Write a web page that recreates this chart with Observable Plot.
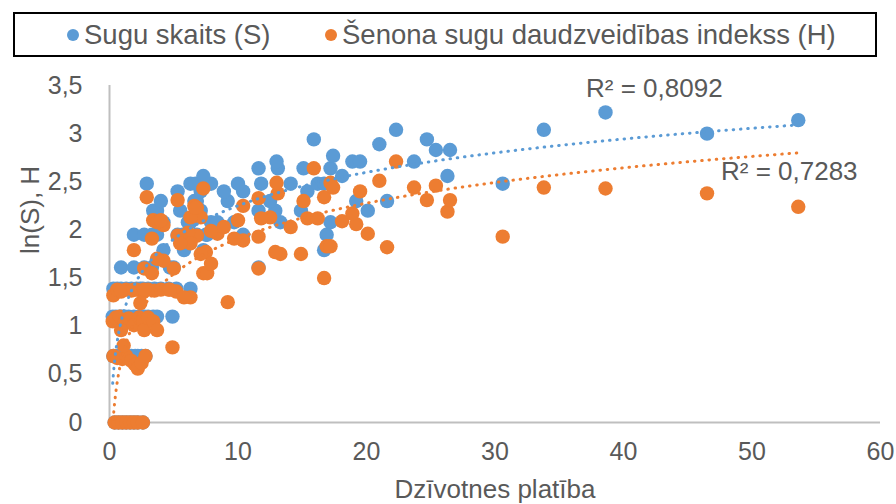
<!DOCTYPE html>
<html><head><meta charset="utf-8">
<script src="https://cdn.jsdelivr.net/npm/d3@7"></script>
<script src="https://cdn.jsdelivr.net/npm/@observablehq/plot@0.6"></script>
<style>
html,body{margin:0;padding:0;background:#fff;}
#wrap{position:relative;width:896px;height:504px;font-family:"Liberation Sans",Arial,sans-serif;color:#595959;overflow:hidden;}
#legend{position:absolute;left:13px;top:12px;width:864px;height:45px;box-sizing:border-box;border:2px solid #000;background:#fff;z-index:2;}
.li{position:absolute;top:0;height:41px;display:flex;align-items:center;font-size:27.5px;white-space:nowrap;}
.sw{display:inline-block;width:12px;height:12px;border-radius:50%;margin-right:5px;}
#chart{position:absolute;left:0;top:0;}
</style></head>
<body>
<div id="wrap">
  <div id="chart"></div>
  <div id="legend"></div>
</div>
<script>
// --- data ---
const area = [0.4,0.7,1.0,1.3,1.6,1.9,2.2,2.6,
  0.3,0.6,1.0,1.3,1.7,2.0,2.2,2.5,2.8,
  0.25,0.5,0.8,0.9,1.1,1.2,1.5,1.9,2.3,2.6,2.7,3.0,3.4,3.7,4.9,
  0.3,0.6,0.9,1.3,1.7,2.1,2.4,2.6,3.0,3.5,4.0,4.6,5.2,6.3,
  0.9,1.9,2.7,3.3,4.7,5.0,11.6,
  4.2,5.8,7.3,16.7,
  1.9,2.7,3.3,3.7,5.3,5.7,6.8,7.5,7.6,10.4,16.9,
  4.2,6.1,6.3,7.9,8.4,9.7,13.3,17.2,
  3.4,3.7,5.5,7.1,11.6,12.9,14.9,20.1,
  4.0,6.6,6.8,9.2,12.5,19.2,21.6,
  5.3,7.1,8.9,10.4,15.4,
  2.9,6.3,6.7,7.9,10.0,11.8,14.1,16.2,16.7,30.6,
  7.3,18.1,26.3,
  11.6,13.1,15.1,17.2,
  13.0,18.9,19.5,23.7,
  17.4,25.4,26.5,21.0,15.9,24.7,46.5,22.3,33.8,53.6,38.6];
const lnS = [0,0,0,0,0,0,0,0,
  0.69,0.69,0.69,0.69,0.69,0.69,0.69,0.69,0.69,
  1.10,1.10,1.10,1.10,1.10,1.10,1.10,1.10,1.10,1.10,1.10,1.10,1.10,1.10,1.10,
  1.39,1.39,1.39,1.39,1.39,1.39,1.39,1.39,1.39,1.39,1.39,1.39,1.39,1.39,
  1.61,1.61,1.61,1.61,1.61,1.61,1.61,
  1.79,1.79,1.79,1.79,
  1.95,1.95,1.95,1.95,1.95,1.95,1.95,1.95,1.95,1.95,1.95,
  2.08,2.08,2.08,2.08,2.08,2.08,2.08,2.08,
  2.20,2.20,2.20,2.20,2.20,2.20,2.20,2.20,
  2.30,2.30,2.30,2.30,2.30,2.30,2.30,
  2.40,2.40,2.40,2.40,2.40,
  2.48,2.48,2.48,2.48,2.48,2.48,2.48,2.48,2.48,2.48,
  2.56,2.56,2.56,
  2.64,2.64,2.64,2.64,
  2.71,2.71,2.71,2.71,
  2.77,2.83,2.83,2.89,2.94,2.94,3.00,3.04,3.04,3.14,3.22];
const H = [0,0,0,0,0,0,0,0,
  0.69,0.67,0.66,0.69,0.64,0.60,0.56,0.62,0.69,
  1.05,1.09,1.10,0.96,0.80,1.04,1.08,1.01,1.09,1.06,0.96,1.09,1.05,0.96,0.78,
  1.32,1.38,1.36,1.38,1.37,1.38,1.24,1.35,1.38,1.37,1.38,1.38,1.36,1.30,
  1.37,1.38,1.60,1.55,1.38,1.60,1.60,
  1.68,1.30,1.55,1.50,
  1.79,1.38,1.91,1.70,1.94,1.91,1.94,1.77,1.55,1.89,1.83,
  2.05,1.97,1.86,1.65,1.96,1.91,1.75,1.83,
  2.10,2.08,1.86,1.75,1.93,1.77,1.75,1.96,
  2.10,2.25,2.23,1.25,2.13,2.06,1.82,
  2.31,2.13,2.03,2.25,2.12,
  2.34,2.13,2.23,1.99,2.10,2.12,2.03,2.12,2.34,1.93,
  2.43,2.09,2.19,
  2.33,2.38,2.30,2.49,
  2.49,2.17,2.40,2.44,
  2.44,2.46,2.31,2.51,2.64,2.31,2.38,2.71,2.44,2.24,2.43];
const seriesNames = ["Sugu skaits (S)", "Šenona sugu daudzveidības indekss (H)"];
// logarithmic trendlines y = a·ln(x) + b, coefficients
const trendA = [0.50, 0.53];
const trendB = [1.10, 0.69];
const r2Labels = ["R² = 0,8092", "R² = 0,7283"];
const r2X = [42.4, 52.9];
const r2Y = [3.47, 2.60];
const xTicks = [0,10,20,30,40,50,60];
const yTicks = [0,0.5,1,1.5,2,2.5,3,3.5];
const colors = ["#5B9BD5", "#ED7D31"];

const sites = area.map((a,i)=>({area:a, lnS:lnS[i], H:H[i]}));

const [xmin, xmax] = d3.extent(area);
const xs = d3.range(0, 301).map(i => xmin*Math.pow(xmax/xmin, i/300));
const trendS = xs.map(x => ({x, y: trendA[0]*Math.log(x) + trendB[0]}));
const trendH = xs.map(x => ({x, y: trendA[1]*Math.log(x) + trendB[1]}));

const fmt = d => String(d).replace(".", ",");

const chart = Plot.plot({
  width: 896, height: 504,
  marginLeft: 109, marginRight: 16, marginTop: 85, marginBottom: 82,
  style: {fontFamily: '"Liberation Sans", Arial, sans-serif', fontSize: "25px", color: "#595959", background: "transparent", overflow: "visible"},
  x: {domain: [0, 60]},
  y: {domain: [0, 3.5]},
  marks: [
    Plot.axisX({ticks: xTicks, tickSize: 0, tickPadding: 20, tickFormat: fmt, label: null, fontSize: 25, fill: "#595959"}),
    Plot.axisY({ticks: yTicks, tickSize: 0, tickPadding: 27, tickFormat: fmt, label: null, fontSize: 25, fill: "#595959"}),
    Plot.ruleY([0], {stroke: "#BFBFBF", strokeWidth: 2}),
    Plot.ruleX([0], {stroke: "#BFBFBF", strokeWidth: 2}),
    Plot.dot(sites, {x: "area", y: "lnS", r: 7.2, fill: colors[0]}),
    Plot.dot(sites, {x: "area", y: "H", r: 7.2, fill: colors[1]}),
    Plot.line(trendS, {x: "x", y: "y", stroke: colors[0], strokeWidth: 3, strokeDasharray: "0.5 6.8", strokeLinecap: "round", clip: true}),
    Plot.line(trendH, {x: "x", y: "y", stroke: colors[1], strokeWidth: 3, strokeDasharray: "0.5 6.8", strokeLinecap: "round", clip: true}),
    Plot.text(r2Labels, {x: (d,i) => r2X[i], y: (d,i) => r2Y[i], text: d => d, fontSize: 26, fill: "#595959"}),
    Plot.text(["Dzīvotnes platība"], {frameAnchor: "bottom", dy: 75, fontSize: 26, fill: "#595959"}),
    Plot.text(["ln(S), H"], {frameAnchor: "left", dx: -79, rotate: -90, fontSize: 26, fill: "#595959"})
  ]
});
document.getElementById("chart").appendChild(chart);

const legend = document.getElementById("legend");
const legendLeft = [52, 310];
seriesNames.forEach((name, i) => {
  const item = document.createElement("div");
  item.className = "li";
  item.style.left = legendLeft[i] + "px";
  const sw = document.createElement("span");
  sw.className = "sw"; sw.style.background = colors[i];
  item.appendChild(sw);
  item.appendChild(document.createTextNode(name));
  legend.appendChild(item);
});
</script>
</body></html>
